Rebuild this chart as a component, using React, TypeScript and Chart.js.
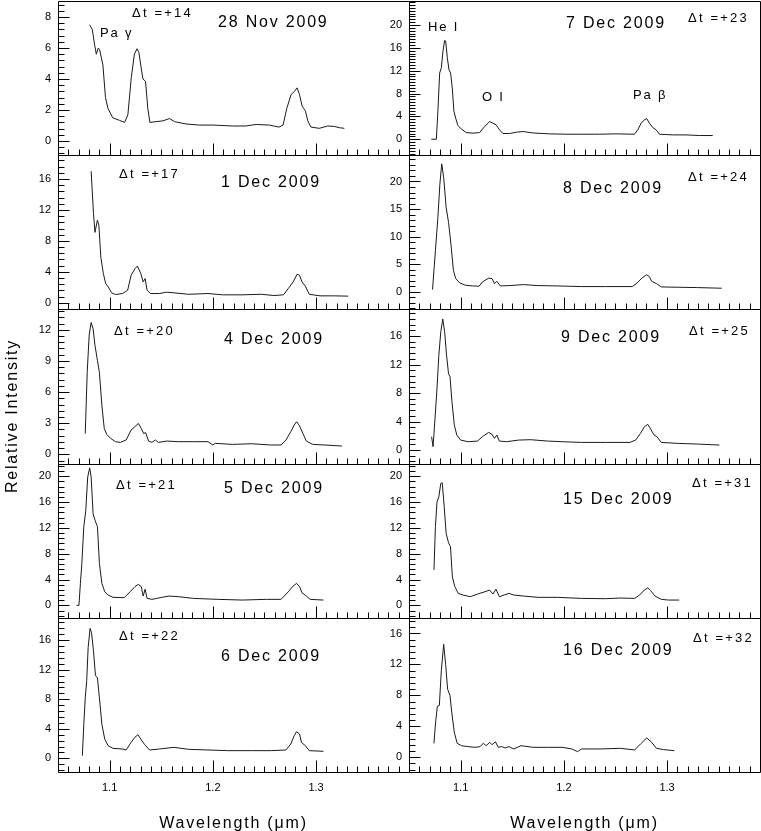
import { useEffect, useRef } from 'react'
import { Chart, registerables } from 'chart.js'

Chart.register(...registerables)

const FONT = '"Liberation Sans", Arial, Helvetica, sans-serif'

// wavelength axis (µm)
const xMin = 1.05
const xMax = 1.39
const xTickLabels = [1.1, 1.2, 1.3]

// y tick label sets
const yTicksBy2 = [0, 2, 4, 6, 8]
const yTicksBy3 = [0, 3, 6, 9, 12]
const yTicksTo16 = [0, 4, 8, 12, 16]
const yTicksTo20 = [0, 4, 8, 12, 16, 20]
const yTicksBy5 = [0, 5, 10, 15, 20]

// spectra: wavelength (µm) and relative intensity
const nov28Wl = [1.0806, 1.0832, 1.0855, 1.0871, 1.089, 1.0903, 1.0935, 1.096, 1.0984, 1.103, 1.1097, 1.1145, 1.1177, 1.121, 1.124, 1.1265, 1.1284, 1.1306, 1.1323, 1.1348, 1.137, 1.139, 1.145, 1.1516, 1.158, 1.163, 1.174, 1.187, 1.2, 1.219, 1.232, 1.242, 1.2548, 1.264, 1.268, 1.2716, 1.2758, 1.279, 1.2816, 1.2839, 1.2865, 1.2897, 1.292, 1.295, 1.303, 1.3113, 1.3177, 1.3226, 1.3274]
const nov28Flux = [7.5, 7.2, 6.2, 5.6, 6.0, 5.9, 4.9, 2.8, 2.1, 1.5, 1.33, 1.2, 1.7, 4.1, 5.6, 5.95, 5.7, 4.7, 4.0, 3.85, 2.1, 1.2, 1.25, 1.3, 1.45, 1.25, 1.1, 1.03, 1.03, 0.97, 0.97, 1.07, 1.03, 0.9, 1.03, 2.1, 3.0, 3.2, 3.43, 3.0, 2.25, 1.93, 1.3, 0.9, 0.82, 0.97, 0.94, 0.86, 0.82]

const dec1Wl = [1.0821, 1.0844, 1.0858, 1.0882, 1.0896, 1.0915, 1.0939, 1.0962, 1.0986, 1.1019, 1.1057, 1.1127, 1.1175, 1.1208, 1.1245, 1.1269, 1.1302, 1.1325, 1.1344, 1.1363, 1.1396, 1.1481, 1.1552, 1.1623, 1.1764, 1.1953, 1.2094, 1.2283, 1.2472, 1.259, 1.2684, 1.2731, 1.2778, 1.2816, 1.284, 1.2863, 1.2896, 1.2934, 1.3038, 1.3179, 1.3311]
const dec1Flux = [17.0, 11.5, 9.1, 10.7, 10.0, 5.9, 3.8, 2.5, 2.06, 1.29, 1.07, 1.2, 1.63, 3.56, 4.4, 4.76, 3.78, 2.7, 3.13, 1.63, 1.2, 1.2, 1.37, 1.29, 1.1, 1.2, 1.03, 1.03, 1.1, 0.94, 1.03, 1.85, 2.7, 3.7, 3.56, 2.7, 2.15, 1.1, 0.9, 0.9, 0.86]

const dec4Wl = [1.0764, 1.0783, 1.0802, 1.0821, 1.084, 1.0858, 1.0882, 1.0901, 1.0925, 1.0948, 1.0972, 1.1009, 1.1057, 1.1104, 1.116, 1.1208, 1.1245, 1.1278, 1.1307, 1.133, 1.1349, 1.1377, 1.141, 1.1443, 1.1472, 1.1552, 1.167, 1.1811, 1.1953, 1.2, 1.2024, 1.2189, 1.2377, 1.2566, 1.266, 1.2708, 1.2755, 1.2788, 1.2811, 1.284, 1.2873, 1.2906, 1.2967, 1.3085, 1.325]
const dec4Flux = [2.0, 7.9, 11.5, 12.7, 12.1, 10.5, 9.05, 7.9, 4.7, 2.5, 1.92, 1.54, 1.22, 1.15, 1.38, 2.34, 2.66, 2.98, 2.5, 2.0, 2.1, 1.28, 1.15, 1.38, 1.15, 1.28, 1.22, 1.22, 1.22, 0.9, 1.06, 0.96, 1.02, 0.9, 0.9, 1.38, 2.18, 2.82, 3.14, 2.75, 2.0, 1.28, 0.96, 0.9, 0.8]

const dec5Wl = [1.0679, 1.0703, 1.0717, 1.0731, 1.075, 1.0769, 1.0788, 1.0807, 1.0821, 1.084, 1.0858, 1.0882, 1.0901, 1.0925, 1.0953, 1.0986, 1.1033, 1.1142, 1.1198, 1.1245, 1.1278, 1.1307, 1.1325, 1.1344, 1.1363, 1.141, 1.1458, 1.1505, 1.1575, 1.167, 1.1811, 1.2047, 1.2283, 1.2519, 1.266, 1.2731, 1.2778, 1.2811, 1.284, 1.2863, 1.2906, 1.2943, 1.3071]
const dec5Flux = [0, 0, 3.4, 6.5, 12.2, 14.7, 19.9, 21.3, 19.9, 14.2, 13.2, 12.2, 6.5, 3.4, 2.1, 1.6, 1.24, 1.19, 2.1, 2.9, 3.25, 2.9, 1.44, 2.5, 1.08, 0.93, 1.08, 1.24, 1.44, 1.34, 1.08, 0.93, 0.82, 0.93, 0.93, 2.1, 3.0, 3.4, 2.9, 1.96, 1.44, 0.93, 0.82]

const dec6Wl = [1.0736, 1.075, 1.0764, 1.0778, 1.0792, 1.0811, 1.0825, 1.0844, 1.0863, 1.0882, 1.0901, 1.0925, 1.0953, 1.0986, 1.1033, 1.1127, 1.116, 1.1208, 1.1245, 1.1274, 1.1302, 1.134, 1.1387, 1.1481, 1.1623, 1.1764, 1.1953, 1.2142, 1.2377, 1.2566, 1.2708, 1.2755, 1.2788, 1.2811, 1.284, 1.2858, 1.2896, 1.2934, 1.3071]
const dec6Flux = [0.36, 4.6, 8.2, 10.5, 15.0, 17.6, 17.0, 14.5, 11.2, 10.9, 8.2, 4.6, 2.6, 1.7, 1.35, 1.26, 1.13, 2.16, 2.84, 3.2, 2.6, 1.85, 1.13, 1.26, 1.49, 1.22, 1.13, 1.04, 1.04, 1.04, 1.13, 1.94, 3.06, 3.6, 3.3, 2.16, 1.71, 1.04, 0.95]

const dec7Wl = [1.0716, 1.0765, 1.078, 1.0797, 1.0813, 1.0829, 1.0845, 1.0855, 1.0871, 1.0887, 1.0903, 1.0919, 1.0935, 1.0952, 1.0974, 1.1006, 1.1055, 1.112, 1.1184, 1.1232, 1.128, 1.1313, 1.1345, 1.1377, 1.141, 1.1474, 1.1539, 1.1603, 1.17, 1.1861, 1.2023, 1.2184, 1.2345, 1.2506, 1.2684, 1.2716, 1.2748, 1.278, 1.2803, 1.2829, 1.2861, 1.2894, 1.2926, 1.3055, 1.3184, 1.3313, 1.3442]
const dec7Flux = [0, 0, 4.9, 11.6, 12.5, 15.4, 17.3, 17.2, 14.3, 12.2, 11.6, 9.0, 4.9, 3.7, 2.4, 1.8, 1.17, 1.06, 1.17, 2.2, 3.1, 2.8, 2.5, 1.64, 1.0, 1.0, 1.23, 1.35, 1.1, 0.94, 0.88, 0.88, 0.88, 0.94, 0.88, 1.64, 2.8, 3.4, 3.6, 2.8, 2.05, 1.64, 0.88, 0.76, 0.76, 0.65, 0.65]

const dec8Wl = [1.0728, 1.0756, 1.078, 1.0799, 1.0817, 1.0836, 1.086, 1.0883, 1.0906, 1.093, 1.0953, 1.0991, 1.1047, 1.1117, 1.1178, 1.1211, 1.1272, 1.1304, 1.1328, 1.1351, 1.1384, 1.1468, 1.1609, 1.1749, 1.1937, 1.2171, 1.2405, 1.2663, 1.271, 1.2756, 1.2803, 1.2827, 1.285, 1.2897, 1.2944, 1.3108, 1.3295, 1.3529]
const dec8Flux = [0.42, 7.5, 13.5, 19.5, 23.2, 20.7, 15.3, 12.6, 8.7, 3.9, 2.4, 1.62, 1.2, 1.08, 1.02, 1.8, 2.5, 2.4, 1.5, 1.92, 1.08, 1.14, 1.32, 1.14, 1.08, 0.96, 0.96, 0.96, 1.62, 2.5, 3.1, 2.8, 1.92, 1.5, 0.9, 0.84, 0.78, 0.66]

const dec9Wl = [1.0719, 1.0733, 1.0752, 1.0771, 1.0789, 1.0808, 1.0827, 1.0845, 1.0864, 1.0883, 1.0897, 1.0916, 1.0939, 1.0963, 1.1, 1.107, 1.1164, 1.1211, 1.1272, 1.1304, 1.1328, 1.1351, 1.1375, 1.1445, 1.1562, 1.1679, 1.1843, 1.1984, 1.2171, 1.2405, 1.2639, 1.2696, 1.2742, 1.278, 1.2813, 1.2841, 1.2874, 1.2902, 1.2944, 1.3108, 1.3295, 1.3506]
const dec9Flux = [1.87, 0.47, 4.4, 8.6, 13.3, 16.6, 18.4, 16.6, 13.3, 10.7, 10.3, 6.8, 3.5, 2.1, 1.4, 1.17, 1.26, 1.87, 2.48, 2.2, 1.64, 2.1, 1.26, 1.17, 1.4, 1.45, 1.26, 1.17, 1.07, 1.07, 1.07, 1.4, 2.34, 3.27, 3.6, 2.94, 2.1, 1.87, 1.07, 0.93, 0.84, 0.7]

const dec15Wl = [1.0742, 1.0756, 1.0771, 1.0789, 1.0808, 1.0822, 1.0841, 1.086, 1.0883, 1.0902, 1.092, 1.0944, 1.0977, 1.1023, 1.1094, 1.1164, 1.1234, 1.1281, 1.1314, 1.1342, 1.1375, 1.1422, 1.1468, 1.1515, 1.1609, 1.1749, 1.1937, 1.2171, 1.2405, 1.2546, 1.2686, 1.2733, 1.278, 1.2813, 1.2841, 1.2883, 1.2944, 1.3014, 1.3117]
const dec15Flux = [5.5, 12.2, 16.0, 16.8, 18.9, 19.0, 15.3, 11.1, 9.7, 9.1, 4.4, 2.9, 1.86, 1.6, 1.34, 1.75, 2.1, 2.37, 1.75, 2.5, 1.34, 1.6, 1.86, 1.6, 1.44, 1.24, 1.24, 1.08, 1.03, 1.13, 1.08, 1.6, 2.37, 2.7, 2.27, 1.44, 0.93, 0.82, 0.82]

const dec16Wl = [1.0742, 1.0756, 1.0775, 1.0794, 1.0813, 1.0836, 1.0855, 1.0874, 1.0897, 1.0916, 1.0939, 1.0967, 1.1009, 1.107, 1.1141, 1.1187, 1.122, 1.1248, 1.1281, 1.1304, 1.1337, 1.1365, 1.1398, 1.1431, 1.1468, 1.1515, 1.1585, 1.1703, 1.1843, 1.1984, 1.2077, 1.2133, 1.2171, 1.2358, 1.2546, 1.2686, 1.2742, 1.2803, 1.285, 1.2897, 1.2967, 1.307]
const dec16Flux = [1.8, 4.3, 6.6, 6.7, 11.2, 14.6, 12.0, 8.8, 8.0, 5.6, 3.2, 1.8, 1.5, 1.38, 1.29, 1.38, 1.8, 1.5, 1.94, 1.63, 2.0, 1.29, 1.38, 1.2, 1.38, 1.08, 1.5, 1.29, 1.29, 1.29, 1.08, 0.73, 1.08, 1.08, 1.16, 0.95, 1.72, 2.5, 1.94, 1.16, 0.99, 0.86]

// layout of the grid (page pixels)
const PLOT_LEFT = [58, 409]
const PLOT_W = 351
const ROW_TOP = [1, 155, 309, 464, 618, 772]
const PAD = 16
const Y_AXIS_W = 50
const X_AXIS_H = 32

type Label = { text: string; dx: number; dy: number; kind: 'date' | 'dt' | 'line' }
type Panel = {
  key: string
  col: number
  row: number
  wl: number[]
  flux: number[]
  yMin: number
  yMax: number
  yTicks: number[]
  yMinor: number
  labels: Label[]
}

const labelStyle = {
  date: { size: 16, spacing: '1.8px' },
  dt: { size: 13, spacing: '2.2px' },
  line: { size: 13, spacing: '1.8px' },
}

const panels: Panel[] = [
  {
    key: 'nov28', col: 0, row: 0, wl: nov28Wl, flux: nov28Flux, yMin: -0.9, yMax: 9.03, yTicks: yTicksBy2, yMinor: 0.4,
    labels: [
      { text: 'Δt =+14', dx: 74, dy: 12, kind: 'dt' },
      { text: '28 Nov 2009', dx: 160, dy: 22, kind: 'date' },
      { text: 'Pa γ', dx: 42, dy: 32, kind: 'line' },
    ],
  },
  {
    key: 'dec7', col: 1, row: 0, wl: dec7Wl, flux: dec7Flux, yMin: -2.76, yMax: 24.2, yTicks: yTicksTo20, yMinor: 0.5,
    labels: [
      { text: 'He I', dx: 19, dy: 26, kind: 'line' },
      { text: '7 Dec 2009', dx: 157, dy: 23, kind: 'date' },
      { text: 'Δt =+23', dx: 279, dy: 17, kind: 'dt' },
      { text: 'O I', dx: 73, dy: 96, kind: 'line' },
      { text: 'Pa β', dx: 224, dy: 94, kind: 'line' },
    ],
  },
  {
    key: 'dec1', col: 0, row: 1, wl: dec1Wl, flux: dec1Flux, yMin: -0.8, yMax: 19.1, yTicks: yTicksTo16, yMinor: 0.8,
    labels: [
      { text: 'Δt =+17', dx: 61, dy: 19, kind: 'dt' },
      { text: '1 Dec 2009', dx: 163, dy: 28, kind: 'date' },
    ],
  },
  {
    key: 'dec8', col: 1, row: 1, wl: dec8Wl, flux: dec8Flux, yMin: -3.1, yMax: 24.8, yTicks: yTicksBy5, yMinor: 1,
    labels: [
      { text: '8 Dec 2009', dx: 154, dy: 34, kind: 'date' },
      { text: 'Δt =+24', dx: 279, dy: 22, kind: 'dt' },
    ],
  },
  {
    key: 'dec4', col: 0, row: 2, wl: dec4Wl, flux: dec4Flux, yMin: -0.93, yMax: 14.0, yTicks: yTicksBy3, yMinor: 0.6,
    labels: [
      { text: 'Δt =+20', dx: 56, dy: 22, kind: 'dt' },
      { text: '4 Dec 2009', dx: 166, dy: 31, kind: 'date' },
    ],
  },
  {
    key: 'dec9', col: 1, row: 2, wl: dec9Wl, flux: dec9Flux, yMin: -1.96, yMax: 19.8, yTicks: yTicksTo16, yMinor: 0.8,
    labels: [
      { text: '9 Dec 2009', dx: 152, dy: 29, kind: 'date' },
      { text: 'Δt =+25', dx: 280, dy: 22, kind: 'dt' },
    ],
  },
  {
    key: 'dec5', col: 0, row: 3, wl: dec5Wl, flux: dec5Flux, yMin: -1.96, yMax: 21.9, yTicks: yTicksTo20, yMinor: 0.8,
    labels: [
      { text: 'Δt =+21', dx: 58, dy: 21, kind: 'dt' },
      { text: '5 Dec 2009', dx: 166, dy: 25, kind: 'date' },
    ],
  },
  {
    key: 'dec15', col: 1, row: 3, wl: dec15Wl, flux: dec15Flux, yMin: -1.96, yMax: 21.9, yTicks: yTicksTo20, yMinor: 0.8,
    labels: [
      { text: '15 Dec 2009', dx: 154, dy: 36, kind: 'date' },
      { text: 'Δt =+31', dx: 283, dy: 19, kind: 'dt' },
    ],
  },
  {
    key: 'dec6', col: 0, row: 4, wl: dec6Wl, flux: dec6Flux, yMin: -1.85, yMax: 19.0, yTicks: yTicksTo16, yMinor: 0.8,
    labels: [
      { text: 'Δt =+22', dx: 61, dy: 18, kind: 'dt' },
      { text: '6 Dec 2009', dx: 163, dy: 39, kind: 'date' },
    ],
  },
  {
    key: 'dec16', col: 1, row: 4, wl: dec16Wl, flux: dec16Flux, yMin: -1.9, yMax: 18.0, yTicks: yTicksTo16, yMinor: 0.8,
    labels: [
      { text: '16 Dec 2009', dx: 154, dy: 33, kind: 'date' },
      { text: 'Δt =+32', dx: 284, dy: 20, kind: 'dt' },
    ],
  },
]

function SpectrumPanel({ panel }: { panel: Panel }) {
  const canvasRef = useRef<HTMLCanvasElement>(null)
  const bottom = panel.row === 4
  const rowH = ROW_TOP[panel.row + 1] - ROW_TOP[panel.row]

  useEffect(() => {
    if (!canvasRef.current) return

    // box, inward ticks and the text inside each panel
    const frame = {
      id: 'panelFrame',
      afterDraw(chart: Chart) {
        const { ctx, chartArea: a } = chart
        const x = chart.scales.x
        const y = chart.scales.y
        const L = Math.round(a.left) + 0.5
        const R = Math.round(a.right) + 0.5
        const T = Math.round(a.top) + 0.5
        const B = Math.round(a.bottom) + 0.5

        ctx.save()
        ctx.strokeStyle = '#000'
        ctx.lineWidth = 1
        ctx.beginPath()
        ctx.rect(L, T, R - L, B - T)
        const n0 = Math.ceil(panel.yMin / panel.yMinor)
        const n1 = Math.floor(panel.yMax / panel.yMinor)
        for (let n = n0; n <= n1; n++) {
          const v = n * panel.yMinor
          const major = panel.yTicks.some((t) => Math.abs(t - v) < 1e-6)
          const py = Math.round(y.getPixelForValue(v)) + 0.5
          ctx.moveTo(L, py)
          ctx.lineTo(L + (major ? 11 : 6), py)
        }
        for (let n = 106; n <= 138; n++) {
          const px = Math.round(x.getPixelForValue(n / 100)) + 0.5
          ctx.moveTo(px, B)
          ctx.lineTo(px, B - (n % 10 === 0 ? 12 : 6))
        }
        ctx.stroke()

        ctx.fillStyle = '#000'
        ctx.textBaseline = 'middle'
        ctx.textAlign = 'left'
        for (const lb of panel.labels) {
          const st = labelStyle[lb.kind]
          ctx.font = `${st.size}px ${FONT}`
          ;(ctx as any).letterSpacing = st.spacing
          ctx.fillText(lb.text, a.left + lb.dx, a.top + lb.dy)
        }
        ctx.restore()
      },
    }

    const chart = new Chart(canvasRef.current, {
      type: 'line',
      data: {
        datasets: [
          {
            data: panel.wl.map((w, i) => ({ x: w, y: panel.flux[i] })),
            borderColor: '#1a1a1a',
            borderWidth: 1,
            pointRadius: 0,
            tension: 0,
            fill: false,
          },
        ],
      },
      options: {
        animation: false,
        responsive: true,
        maintainAspectRatio: false,
        layout: { padding: { left: 0, top: PAD, right: PAD, bottom: bottom ? 0 : PAD } },
        plugins: { legend: { display: false }, tooltip: { enabled: false } },
        scales: {
          x: {
            type: 'linear',
            min: xMin,
            max: xMax,
            display: bottom,
            grid: { display: false, drawTicks: false },
            border: { display: false },
            afterBuildTicks: (s: any) => {
              s.ticks = xTickLabels.map((v) => ({ value: v }))
            },
            afterFit: (s: any) => {
              if (bottom) s.height = X_AXIS_H
            },
            ticks: {
              color: '#000',
              font: { family: FONT, size: 11 },
              padding: 9,
              maxRotation: 0,
              minRotation: 0,
              callback: (v: any) => Number(v).toFixed(1),
            },
          },
          y: {
            type: 'linear',
            min: panel.yMin,
            max: panel.yMax,
            grid: { display: false, drawTicks: false },
            border: { display: false },
            afterBuildTicks: (s: any) => {
              s.ticks = panel.yTicks.map((v) => ({ value: v }))
            },
            afterFit: (s: any) => {
              s.width = Y_AXIS_W
            },
            ticks: {
              color: '#000',
              font: { family: FONT, size: 11 },
              padding: 7,
              callback: (v: any) => String(v),
            },
          },
        },
      },
      plugins: [frame],
    })

    return () => {
      chart.destroy()
    }
  }, [panel, bottom])

  return (
    <div
      style={{
        position: 'absolute',
        left: PLOT_LEFT[panel.col] - Y_AXIS_W,
        top: ROW_TOP[panel.row] - PAD,
        width: Y_AXIS_W + PLOT_W + PAD,
        height: PAD + rowH + (bottom ? X_AXIS_H : PAD),
      }}
    >
      <canvas ref={canvasRef} />
    </div>
  )
}

export default function App() {
  const titleFont = `16px ${FONT}`
  return (
    <div style={{ position: 'absolute', left: 0, top: 0, width: 761, height: 831, background: '#fff', overflow: 'hidden' }}>
      {panels.map((p) => (
        <SpectrumPanel key={p.key} panel={p} />
      ))}
      {PLOT_LEFT.map((l) => (
        <div
          key={l}
          style={{
            position: 'absolute',
            left: l,
            top: 813,
            width: PLOT_W,
            textAlign: 'center',
            font: titleFont,
            lineHeight: '20px',
            letterSpacing: '1.8px',
            color: '#000',
          }}
        >
          Wavelength (μm)
        </div>
      ))}
      <div
        style={{
          position: 'absolute',
          left: 12 - 100,
          top: 416 - 10,
          width: 200,
          height: 20,
          textAlign: 'center',
          font: titleFont,
          lineHeight: '20px',
          letterSpacing: '1.8px',
          color: '#000',
          transform: 'rotate(-90deg)',
        }}
      >
        Relative Intensity
      </div>
    </div>
  )
}
